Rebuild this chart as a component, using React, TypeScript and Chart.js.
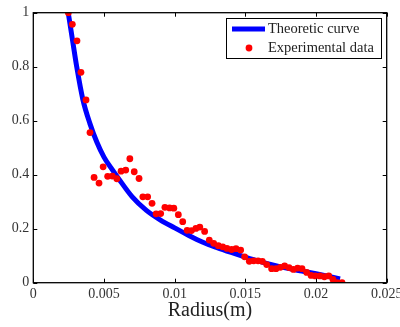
import React, { useEffect, useRef } from "react";
import { Chart, registerables } from "chart.js";

Chart.register(...registerables);

const expRadius = [
  0.00248, 0.00276, 0.00309, 0.00337, 0.00373, 0.00401, 0.00430, 0.00465, 0.00494, 0.00526,
  0.00559, 0.00591, 0.00621, 0.00654, 0.00683, 0.00714, 0.00748, 0.00775, 0.00809, 0.00840,
  0.00869, 0.00901, 0.00931, 0.00964, 0.00994, 0.01026, 0.01057, 0.01088, 0.01119, 0.01150,
  0.01178, 0.01212, 0.01245, 0.01276, 0.01309, 0.01340, 0.01370, 0.01403, 0.01434, 0.01467,
  0.01495, 0.01528, 0.01559, 0.01590, 0.01620, 0.01651, 0.01686, 0.01717, 0.01748, 0.01778,
  0.01809, 0.01840, 0.01870, 0.01901, 0.01934, 0.01965, 0.01995, 0.02028, 0.02059, 0.02090,
  0.02120, 0.02151, 0.02184,
];
const expValues = [
  1.0, 0.957, 0.896, 0.779, 0.677, 0.556, 0.390, 0.369, 0.429, 0.394,
  0.395, 0.385, 0.413, 0.417, 0.459, 0.411, 0.386, 0.318, 0.318, 0.294,
  0.255, 0.256, 0.279, 0.277, 0.276, 0.252, 0.226, 0.194, 0.193, 0.201,
  0.206, 0.190, 0.158, 0.146, 0.137, 0.133, 0.127, 0.123, 0.126, 0.121,
  0.096, 0.079, 0.081, 0.081, 0.079, 0.067, 0.052, 0.052, 0.057, 0.062,
  0.056, 0.049, 0.054, 0.052, 0.038, 0.027, 0.025, 0.025, 0.022, 0.025,
  0.012, 0.0, 0.0,
];

const theoryRadius = [
  0.00247, 0.0028, 0.00307, 0.0035, 0.004, 0.0045, 0.005, 0.0055, 0.006, 0.007,
  0.008, 0.009, 0.010, 0.011, 0.012, 0.013, 0.014, 0.015, 0.016, 0.017,
  0.018, 0.019, 0.020, 0.021, 0.0217,
];
const theoryValues = [
  1.0, 0.89, 0.80, 0.68, 0.59, 0.52, 0.465, 0.425, 0.388, 0.318,
  0.268, 0.232, 0.203, 0.175, 0.150, 0.130, 0.112, 0.095, 0.079, 0.065,
  0.053, 0.043, 0.033, 0.022, 0.014,
];

const xTickValues = [0, 0.005, 0.01, 0.015, 0.02, 0.025];
const xTickLabels = ["0", "0.005", "0.01", "0.015", "0.02", "0.025"];
const yTickValues = [0, 0.2, 0.4, 0.6, 0.8, 1];
const yTickLabels = ["0", "0.2", "0.4", "0.6", "0.8", "1"];

const seriesNames = ["Theoretic curve", "Experimental data"];
const xTitle = "Radius(m)";

const FONT = "'Liberation Serif', 'Times New Roman', serif";

export default function App() {
  const ref = useRef<HTMLCanvasElement | null>(null);

  useEffect(() => {
    const canvas = ref.current;
    if (!canvas) return;

    const framePlugin = {
      id: "frame",
      afterDraw(chart: any) {
        const { ctx, chartArea } = chart;
        const { left, right, top, bottom } = chartArea;
        const xs = chart.scales.x;
        const ys = chart.scales.y;
        ctx.save();
        ctx.strokeStyle = "#000";
        ctx.lineWidth = 1;
        ctx.beginPath();
        const tl = 4;
        xTickValues.forEach((v) => {
          const px = Math.round(xs.getPixelForValue(v)) + 0.5;
          ctx.moveTo(px, bottom);
          ctx.lineTo(px, bottom - tl);
          ctx.moveTo(px, top);
          ctx.lineTo(px, top + tl);
        });
        yTickValues.forEach((v) => {
          const py = Math.round(ys.getPixelForValue(v)) + 0.5;
          ctx.moveTo(left, py);
          ctx.lineTo(left + tl, py);
          ctx.moveTo(right, py);
          ctx.lineTo(right - tl, py);
        });
        ctx.stroke();
        ctx.lineWidth = 1.3;
        ctx.strokeRect(left, top, right - left, bottom - top);

        // legend
        const bx = 226, by = 18, bw = 155, bh = 40;
        ctx.fillStyle = "#fff";
        ctx.fillRect(bx, by, bw, bh);
        ctx.lineWidth = 1;
        ctx.strokeStyle = "#000";
        ctx.strokeRect(bx + 0.5, by + 0.5, bw, bh);
        ctx.strokeStyle = "#0000ff";
        ctx.lineWidth = 5;
        ctx.beginPath();
        ctx.moveTo(232, 29);
        ctx.lineTo(265, 29);
        ctx.stroke();
        ctx.fillStyle = "#ff0000";
        ctx.beginPath();
        ctx.arc(249, 48, 3.4, 0, Math.PI * 2);
        ctx.fill();
        ctx.fillStyle = "#222";
        ctx.font = `14.5px ${FONT}`;
        ctx.textBaseline = "middle";
        ctx.textAlign = "left";
        ctx.fillText(seriesNames[0], 268, 29);
        ctx.fillText(seriesNames[1], 268, 48);
        ctx.restore();
      },
    };

    const chart = new Chart(canvas, {
      type: "scatter",
      data: {
        datasets: [
          {
            label: seriesNames[0],
            data: theoryRadius.map((x, i) => ({ x, y: theoryValues[i] })),
            showLine: true,
            borderColor: "#0000ff",
            borderWidth: 5,
            pointRadius: 0,
            cubicInterpolationMode: "monotone",
            order: 1,
          },
          {
            label: seriesNames[1],
            data: expRadius.map((x, i) => ({ x, y: expValues[i] })),
            showLine: false,
            backgroundColor: "#ff0000",
            borderWidth: 0,
            pointRadius: 3.4,
            order: 0,
          },
        ],
      },
      options: {
        responsive: false,
        animation: false,
        events: [],
        layout: { padding: { left: 0, right: 13.3, top: 12.7, bottom: 0 } },
        plugins: {
          legend: { display: false },
          tooltip: { enabled: false },
        },
        scales: {
          x: {
            type: "linear",
            min: 0,
            max: 0.025,
            grid: { display: false, drawTicks: false },
            border: { display: false },
            afterBuildTicks: (s: any) => {
              s.ticks = xTickValues.map((v) => ({ value: v }));
            },
            afterFit: (s: any) => {
              s.height = 44.3;
              s.paddingLeft = 0;
              s.paddingRight = 0;
            },
            ticks: {
              color: "#333",
              font: { family: FONT, size: 14 },
              padding: 3,
              maxRotation: 0,
              autoSkip: false,
              callback: (_v: any, i: number) => xTickLabels[i],
            },
            title: {
              display: true,
              text: xTitle,
              color: "#222",
              font: { family: FONT, size: 20 },
              padding: { top: 0, bottom: 4 },
            },
          },
          y: {
            type: "linear",
            min: 0,
            max: 1,
            grid: { display: false, drawTicks: false },
            border: { display: false },
            afterBuildTicks: (s: any) => {
              s.ticks = yTickValues.map((v) => ({ value: v }));
            },
            afterFit: (s: any) => {
              s.width = 33.3;
              s.paddingTop = 0;
              s.paddingBottom = 0;
            },
            ticks: {
              color: "#333",
              font: { family: FONT, size: 14 },
              padding: 4,
              autoSkip: false,
              callback: (_v: any, i: number) => yTickLabels[i],
            },
          },
        },
      },
      plugins: [framePlugin],
    } as any);

    return () => chart.destroy();
  }, []);

  return (
    <div style={{ position: "absolute", left: 0, top: 0, width: 400, height: 327, background: "#fff" }}>
      <canvas ref={ref} width={400} height={327} style={{ display: "block" }} />
    </div>
  );
}
